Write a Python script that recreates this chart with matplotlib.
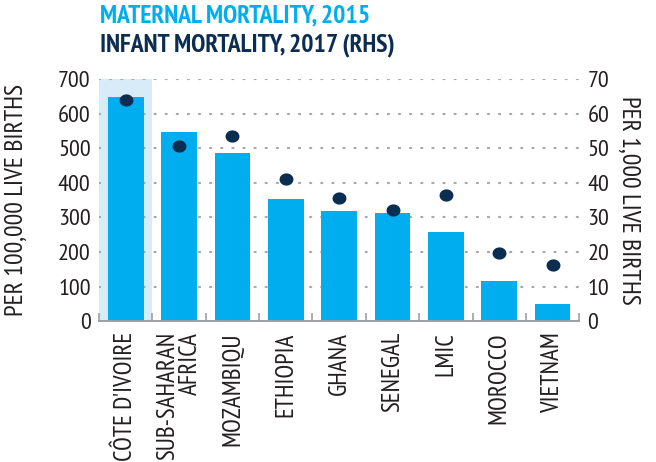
import numpy as np
import matplotlib.pyplot as plt
from matplotlib.path import Path
from matplotlib import font_manager

names = {f.name for f in font_manager.fontManager.ttflist}
prefs = ['PT Sans Narrow', 'Roboto Condensed', 'Fira Sans Condensed', 'Open Sans Condensed',
         'Archivo Narrow', 'Barlow Semi Condensed', 'Encode Sans Condensed', 'Liberation Sans Narrow']
fam = [p for p in prefs if p in names][:1] + ['DejaVu Sans']
plt.rcParams['font.family'] = fam

categories = ["CÔTE D'IVOIRE", "SUB-SAHARAN\nAFRICA", "MOZAMBIQU", "ETHIOPIA", "GHANA",
              "SENEGAL", "LMIC", "MOROCCO", "VIETNAM"]
maternal = [647, 547, 487, 352, 317, 312, 257, 117, 50]
infant = [64, 50.7, 53.4, 41, 35.7, 32, 36.4, 19.8, 16.3]

cyan = '#00AEEF'
navy = '#0B2D52'
text_col = '#231F20'
grid_col = '#A7A9AC'

x = np.arange(len(categories))

fig = plt.figure(figsize=(6.56, 4.62), dpi=100)
ax = fig.add_axes([0.151, 0.305, 0.732, 0.524])
ax2 = ax.twinx()

ax.axvspan(-0.5, 0.5, ymin=0, ymax=1, color='#D7ECF8', zorder=0, lw=0)
for v in range(100, 800, 100):
    ax.axhline(v, color=grid_col, lw=1.6, linestyle=(0, (0.5, 4.5)), zorder=1, dash_capstyle='round')
ax.bar(x, maternal, width=0.67, color=cyan, zorder=2)

# slightly wide ellipse marker
t = np.linspace(0, 2 * np.pi, 60)
ell = Path(np.column_stack([np.cos(t), 0.88 * np.sin(t)]))
ax2.scatter(x, infant, marker=ell, s=100, color=navy, zorder=3, lw=0)

ax.set_xlim(-0.5, len(categories) - 0.5)
ax.set_ylim(0, 700)
ax2.set_ylim(0, 70)
ax.set_yticks(range(0, 800, 100))
ax2.set_yticks(range(0, 80, 10))

for a in (ax, ax2):
    for s in ['top', 'left', 'right']:
        a.spines[s].set_visible(False)
    a.spines['bottom'].set_color('#9D9FA2')
    a.spines['bottom'].set_linewidth(1.2)
    a.tick_params(axis='y', length=0, labelsize=17.5, labelcolor=text_col, pad=6)

ax.set_xticks(x)
ax.set_xticklabels(categories, rotation=90, fontsize=18, color=text_col,
                   ha='center', va='top', multialignment='right', linespacing=1.0)
ax.tick_params(axis='x', length=0, pad=8)
ax.set_xticks(np.arange(-0.5, len(categories)), minor=True)
ax.tick_params(axis='x', which='minor', direction='in', length=6, color='#9D9FA2', width=1.2)

ax.set_ylabel('PER 100,000 LIVE BIRTHS', fontsize=18.5, color=text_col, labelpad=22)
ax2.set_ylabel('PER 1,000 LIVE BIRTHS', fontsize=18.5, color=text_col, rotation=270,
               labelpad=22)

fig.text(0.152, 0.965, 'MATERNAL MORTALITY, 2015', color=cyan, fontsize=18.5,
         fontweight='bold', ha='left', va='center')
fig.text(0.152, 0.902, 'INFANT MORTALITY, 2017 (RHS)', color=navy, fontsize=18.5,
         fontweight='bold', ha='left', va='center')

fig.savefig('out.png', dpi=100)
